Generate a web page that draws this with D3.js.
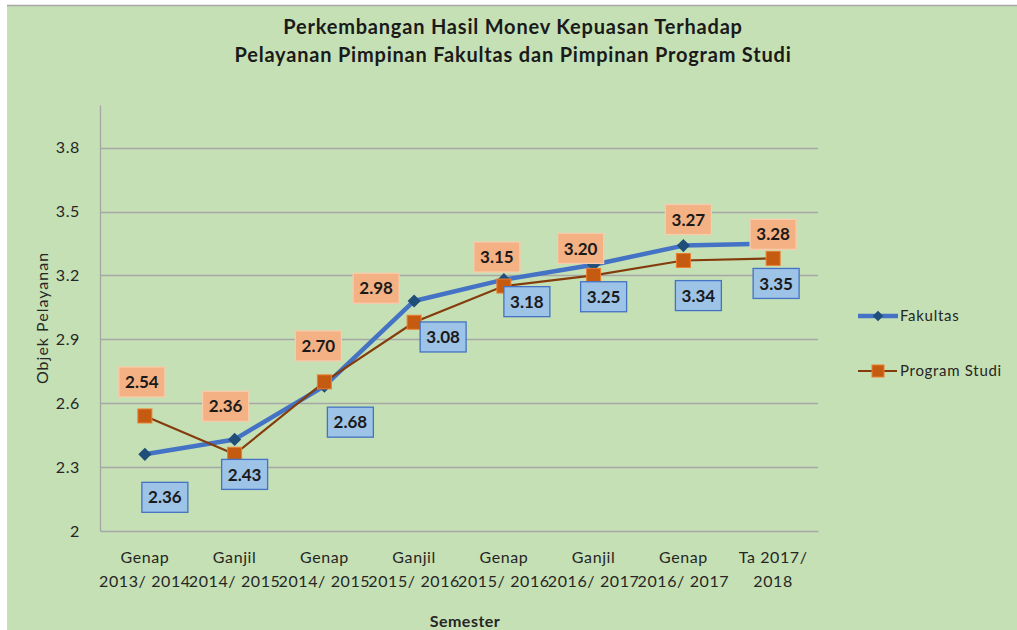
<!DOCTYPE html>
<html><head><meta charset="utf-8">
<script src="https://cdn.jsdelivr.net/npm/d3@7"></script>
<style>html,body{margin:0;padding:0;background:#fff;}svg{display:block;}</style>
</head><body>
<svg id="chart" width="1017" height="630"></svg>
<script>
const categories = [
  ["Genap", "2013/ 2014"],
  ["Ganjil", "2014/ 2015"],
  ["Genap", "2014/ 2015"],
  ["Ganjil", "2015/ 2016"],
  ["Genap", "2015/ 2016"],
  ["Ganjil", "2016/ 2017"],
  ["Genap", "2016/ 2017"],
  ["Ta 2017/", "2018"]
];
const fakultas = [2.36, 2.43, 2.68, 3.08, 3.18, 3.25, 3.34, 3.35];
const programStudi = [2.54, 2.36, 2.70, 2.98, 3.15, 3.20, 3.27, 3.28];
const yTicks = [2, 2.3, 2.6, 2.9, 3.2, 3.5, 3.8];
const seriesNames = ["Fakultas", "Program Studi"];
const titleLines = ["Perkembangan Hasil Monev Kepuasan Terhadap", "Pelayanan Pimpinan Fakultas dan Pimpinan Program Studi"];

// label placement offsets (pixels, relative to point) – manual placement as in original
const fakLabelOffset = [[20, 43], [10, 35], [26, 36], [29, 36], [23, 22], [10, 32], [15, 50], [3, 40]];
const prodiLabelOffset = [[-3, -34], [-9, -48], [-6, -36], [-38, -34], [-7, -29], [-13, -27], [5, -41], [0, -24]];

const svg = d3.select("#chart");
const W = 1017, H = 630;
const font = "Lato, 'Open Sans', sans-serif";

svg.append("rect").attr("x", 7).attr("y", 5).attr("width", W - 7).attr("height", H - 5).attr("fill", "#C5E0B4");
svg.append("line").attr("x1", 7).attr("x2", W).attr("y1", 5.5).attr("y2", 5.5).attr("stroke", "#A6A6A6").attr("stroke-width", 1.5);

const plot = {left: 100, right: 818, top: 105, bottom: 531};
const x = d3.scaleBand().domain(d3.range(categories.length)).range([plot.left, plot.right]);
const y = d3.scaleLinear().domain([2, 4]).range([plot.bottom, plot.top]);
const cx = i => x(i) + x.bandwidth() / 2;

// gridlines
svg.append("g").selectAll("line").data(yTicks.slice(1)).join("line")
  .attr("x1", plot.left).attr("x2", plot.right)
  .attr("y1", d => Math.round(y(d)) + 0.5).attr("y2", d => Math.round(y(d)) + 0.5)
  .attr("stroke", "#A6A6A6").attr("stroke-width", 1.3);

// axes
const yAxis = d3.axisLeft(y).tickValues(yTicks).tickSize(0).tickPadding(20).tickFormat(d => d3.format("")(+d.toFixed(1)));
const gy = svg.append("g").attr("transform", `translate(${plot.left},0)`).call(yAxis);
gy.select(".domain").attr("stroke", "#A6A6A6").attr("stroke-width", 1.3);
gy.selectAll("text").attr("font-family", font).attr("font-size", 16).attr("letter-spacing", 0.6).attr("fill", "#262626");

const xAxis = d3.axisBottom(x).tickSize(0).tickFormat(() => "");
const gx = svg.append("g").attr("transform", `translate(0,${plot.bottom})`).call(xAxis);
gx.select(".domain").attr("stroke", "#A6A6A6").attr("stroke-width", 1.3);
gx.selectAll(".tick").each(function(d) {
  const t = d3.select(this).select("text").attr("y", 0).attr("dy", null)
    .attr("font-family", font).attr("font-size", 16).attr("letter-spacing", 0.6).attr("fill", "#262626");
  t.text(null);
  categories[d].forEach((s, k) => t.append("tspan").attr("x", 0).attr("y", 32 + k * 24).text(s));
});

// axis titles
svg.append("text").attr("transform", `translate(48,318) rotate(-90)`)
  .attr("text-anchor", "middle").attr("font-family", font).attr("font-size", 16).attr("letter-spacing", 1)
  .attr("fill", "#262626").text("Objek Pelayanan");
svg.append("text").attr("x", 465).attr("y", 627).attr("text-anchor", "middle")
  .attr("font-family", font).attr("font-size", 16).attr("letter-spacing", 0.5).attr("font-weight", "bold").attr("fill", "#262626").text("Semester");

// title
svg.append("g").selectAll("text").data(titleLines).join("text")
  .attr("x", 513).attr("y", (d, i) => 34 + i * 28).attr("text-anchor", "middle")
  .attr("font-family", font).attr("font-size", 20).attr("letter-spacing", 0.8).attr("font-weight", "bold").attr("fill", "#1a1a1a").text(d => d);

// lines
const line = d3.line().x((d, i) => cx(i)).y(d => y(d));
svg.append("path").datum(fakultas).attr("d", line).attr("fill", "none").attr("stroke", "#4472C4").attr("stroke-width", 4.5).attr("stroke-linejoin", "round");
svg.append("g").selectAll("path").data(fakultas).join("path")
  .attr("d", d3.symbol(d3.symbolDiamond2, 110))
  .attr("transform", (d, i) => `translate(${cx(i)},${y(d)})`).attr("fill", "#1F4E79");

svg.append("path").datum(programStudi).attr("d", line).attr("fill", "none").attr("stroke", "#843C0C").attr("stroke-width", 2.2);
svg.append("g").selectAll("rect").data(programStudi).join("rect")
  .attr("x", (d, i) => cx(i) - 7).attr("y", d => y(d) - 7).attr("width", 14).attr("height", 14)
  .attr("fill", "#C55A11").attr("stroke", "#ED7D31").attr("stroke-width", 1);

// data labels
function labels(data, offs, fill, stroke) {
  const g = svg.append("g").selectAll("g").data(data).join("g")
    .attr("transform", (d, i) => `translate(${cx(i) + offs[i][0]},${y(d) + offs[i][1]})`);
  g.append("rect").attr("x", -23).attr("y", -15).attr("width", 46).attr("height", 30)
    .attr("fill", fill).attr("stroke", stroke).attr("stroke-width", 1.3);
  g.append("text").attr("text-anchor", "middle").attr("dy", "0.36em")
    .attr("font-family", font).attr("font-size", 17).attr("font-weight", "bold").attr("fill", "#1a1a1a")
    .text(d => d.toFixed(2));
}
labels(fakultas, fakLabelOffset, "#9DC3E6", "#4472C4");
labels(programStudi, prodiLabelOffset, "#F4B183", "#F8CBAD");

// legend
const leg = svg.append("g");
const legY = [316, 371];
leg.append("line").attr("x1", 858).attr("x2", 898).attr("y1", legY[0]).attr("y2", legY[0]).attr("stroke", "#4472C4").attr("stroke-width", 4.5);
leg.append("path").attr("d", d3.symbol(d3.symbolDiamond2, 70)).attr("transform", `translate(878,${legY[0]})`).attr("fill", "#1F4E79");
leg.append("line").attr("x1", 858).attr("x2", 897).attr("y1", legY[1]).attr("y2", legY[1]).attr("stroke", "#843C0C").attr("stroke-width", 2.2);
leg.append("rect").attr("x", 872).attr("y", legY[1] - 6).attr("width", 12).attr("height", 12).attr("fill", "#C55A11").attr("stroke", "#ED7D31");
leg.selectAll("text").data(seriesNames).join("text")
  .attr("x", 900).attr("y", (d, i) => legY[i]).attr("dy", "0.35em")
  .attr("font-family", font).attr("font-size", 15).attr("letter-spacing", 0.7).attr("fill", "#262626").text(d => d);
</script>
</body></html>
